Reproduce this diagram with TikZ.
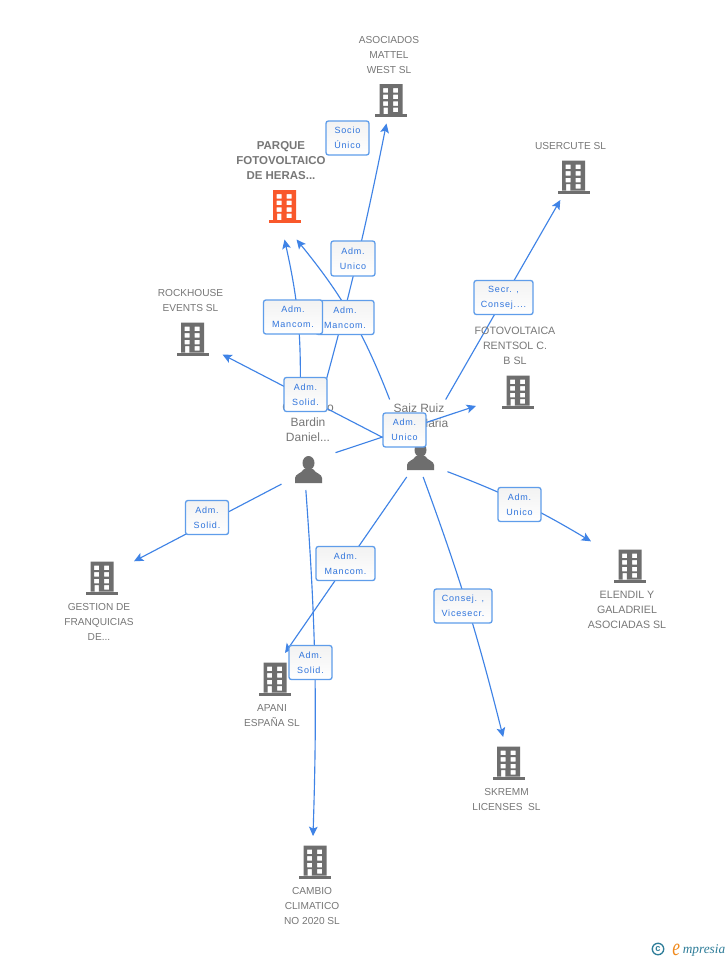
\documentclass[tikz,border=0pt]{standalone}
\usepackage{fontspec}
\setmainfont{Liberation Sans}
\newfontfamily\lblfont[LetterSpace=9]{Liberation Sans}
\newfontfamily\logofont{Liberation Serif}
\usetikzlibrary{arrows.meta}
\definecolor{gtxt}{HTML}{777777}
\definecolor{gicon}{HTML}{6E6E6E}
\definecolor{oicon}{HTML}{F9582B}
\definecolor{connc}{HTML}{3F83E6}
\definecolor{lbord}{HTML}{5F9DEA}
\definecolor{ltxt}{HTML}{2F74DC}
\definecolor{logob}{HTML}{2E7D99}
\definecolor{logoo}{HTML}{F08A1D}
\tikzset{
  x=0.75pt,y=-0.75pt,
  hitbox/.style={rectangle,inner sep=0pt,outer sep=0pt},
  txtname/.style={rectangle,inner sep=0pt,outer sep=0pt,align=center,text=gtxt,font=\fontsize{7.6}{11.25}\selectfont,anchor=center},
  txtbig/.style={txtname,font=\fontsize{8}{11.25}\selectfont},
  txtperson/.style={txtname,font=\fontsize{9}{11.25}\selectfont},
  cedge/.style={draw=connc,line width=0.85pt,-{Stealth[length=7pt,width=6.5pt,inset=1.5pt]}},
  tagstyle/.style={rectangle,rounded corners=1.8pt,draw=lbord,line width=1pt,top color=white!95!black,bottom color=white,
    inner sep=0pt,outer sep=0pt,align=center,text=ltxt,font=\lblfont\fontsize{6.75}{11.25}\selectfont},
}
% name, x, y, hit width, hit height, colour
\newcommand{\bldg}[6]{%
  \node[hitbox,minimum width=#4*0.75pt,minimum height=#5*0.75pt] (#1) at (#2,#3) {};
  \begin{scope}[shift={(#2,#3)}]
    \fill[#6,even odd rule]
      (-11.5,-16.5) rectangle (11.5,13.5)
      (-7.8,-12.5) rectangle (-2.8,-8) (2.2,-12.5) rectangle (7.2,-8)
      (-7.8,-5.8) rectangle (-2.8,-1.3) (2.2,-5.8) rectangle (7.2,-1.3)
      (-7.8,0.9) rectangle (-2.8,5.4) (2.2,0.9) rectangle (7.2,5.4)
      (2.2,7.2) rectangle (7.2,11.7) (-7.5,7.2) rectangle (-3.1,13.5);
    \fill[#6] (-16,13.5) rectangle (16,16.5);
  \end{scope}}
% name, x, y
\newcommand{\persona}[3]{%
  \node[hitbox,minimum width=54*0.75pt,minimum height=40*0.75pt] (#1) at (#2,#3) {};
  \begin{scope}[shift={(#2,#3)}]
    \fill[gicon] (0,-7) ellipse [x radius=6,y radius=7];
    \fill[gicon] (-13.5,13) -- (-13.5,8) .. controls (-13.5,4) and (-7,3.5) .. (-4.5,-1)
      -- (4.5,-1) .. controls (7,3.5) and (13.5,4) .. (13.5,8) -- (13.5,13) -- cycle;
  \end{scope}}
\newcommand{\tagbox}[6]{\node[tagstyle,minimum width=#4*0.75pt,minimum height=#5*0.75pt] (#1) at (#2,#3) {#6};}
\begin{document}
\begin{tikzpicture}
\useasboundingbox (0,0) rectangle (728,960);
\fill[white] (0,0) rectangle (728,960);

% icons
\bldg{parque}{284.5}{206.5}{66}{66}{oicon}
\bldg{asociados}{391}{100.5}{46}{46}{gicon}
\bldg{usercute}{573.5}{177}{46}{46}{gicon}
\bldg{rockhouse}{192.5}{339}{60}{46}{gicon}
\bldg{fotovolt}{518}{392}{84}{46}{gicon}
\bldg{elendil}{630}{566}{78}{50}{gicon}
\bldg{gestion}{102}{578}{64}{48}{gicon}
\bldg{apani}{275}{679}{46}{52}{gicon}
\bldg{skremm}{508.5}{763}{46}{52}{gicon}
\bldg{cambio}{315}{862}{46}{52}{gicon}
\persona{bardin}{308.5}{470}
\persona{saiz}{420.5}{457}

% names of the two people (connectors may start at their edge)
\node[txtperson,minimum width=60*0.75pt,minimum height=48*0.75pt] (bardinname) at (308,422) {Giancarlo\\Bardin\\Daniel...};
\node[txtperson,minimum width=58*0.75pt,minimum height=32*0.75pt] (saizname) at (419,415.5) {Saiz Ruiz\\Jose Maria};

% connectors
\draw[cedge] ([xshift=10pt]bardinname.north) to[bend right=2] (asociados);
\draw[cedge] ([xshift=-6pt]bardinname.north) to[bend right=7] (parque.south);
\draw[cedge] (saizname.north west) to[bend right=9] ([xshift=9pt]parque.south);
\draw[cedge] ([xshift=-2pt]saizname.north east) -- (usercute);
\draw[cedge] (saiz) -- (rockhouse);
\draw[cedge] ([yshift=-2pt]bardin.north east) -- (fotovolt);
\draw[cedge] ([yshift=-11pt]saiz.east) to[bend left=5] (elendil);
\draw[cedge] (bardin) -- (gestion);
\draw[cedge] (saiz) -- ([xshift=7.5pt]apani.north);
\draw[cedge] ([xshift=2pt]saiz.south) to[bend left=3] ([xshift=-4pt]skremm.north);
\draw[cedge] ([xshift=-2pt]bardin.south) to[bend left=3] ([xshift=-1.5pt]cambio.north);

% names of the companies
\node[txtname,font=\bfseries\fontsize{8.6}{11.25}\selectfont] (parquename) at (281,160.5) {PARQUE\\FOTOVOLTAICO\\DE HERAS...};
\node[txtname] (asociadosname) at (389,55) {ASOCIADOS\\MATTEL\\WEST SL};
\node[txtname] (usercutename) at (570.5,146) {USERCUTE SL};
\node[txtname] (rockhousename) at (190.5,300.5) {ROCKHOUSE\\EVENTS SL};
\node[txtbig] (fotovoltname) at (515,346) {FOTOVOLTAICA\\RENTSOL C.\\B SL};
\node[txtbig] (elendilname) at (627,610) {ELENDIL Y\\GALADRIEL\\ASOCIADAS SL};
\node[txtname] (gestionname) at (99,622) {GESTION DE\\FRANQUICIAS\\DE...};
\node[txtname] (apaniname) at (272,715.5) {APANI\\ESPAÑA SL};
\node[txtname] (skremmname) at (506.5,799.5) {SKREMM\\LICENSES\ \ SL};
\node[txtname] (cambioname) at (312,906) {CAMBIO\\CLIMATICO\\NO 2020 SL};

% relation labels
\tagbox{t1}{347.5}{138}{43}{34}{Socio\\Único}
\tagbox{t2}{353}{258.5}{44}{35}{Adm.\\Unico}
\tagbox{t3}{345}{317.5}{58}{34}{Adm.\\Mancom.}
\tagbox{t4}{293}{317}{59}{34}{Adm.\\Mancom.}
\tagbox{t5}{305.5}{394.5}{43}{34}{Adm.\\Solid.}
\tagbox{t6}{404.5}{430}{43}{34}{Adm.\\Unico}
\tagbox{t7}{503.5}{297.5}{59}{34}{Secr. ,\\Consej....}
\tagbox{t8}{519.5}{504.5}{43}{34}{Adm.\\Unico}
\tagbox{t9}{207}{517.5}{43}{34}{Adm.\\Solid.}
\tagbox{t10}{345.5}{563.5}{59}{34}{Adm.\\Mancom.}
\tagbox{t11}{463}{606}{58}{34}{Consej. ,\\Vicesecr.}
\tagbox{t12}{310.5}{662.5}{43}{34}{Adm.\\Solid.}

% logo
\node[circle,draw=logob,line width=1pt,minimum size=8.6pt,inner sep=0pt,text=logob,font=\bfseries\fontsize{7}{7}\selectfont] (copyr) at (658,949) {c};
\node[inner sep=0pt,anchor=base west,text=logoo,yscale=1.4,transform shape,font=\logofont\itshape\fontsize{13}{13}\selectfont] (logoe) at (672,955) {e};
\node[inner sep=0pt,anchor=base west,text=logob,font=\logofont\itshape\fontsize{10}{10}\selectfont] (logot) at (682.5,953.5) {mpresia};
\end{tikzpicture}
\end{document}
